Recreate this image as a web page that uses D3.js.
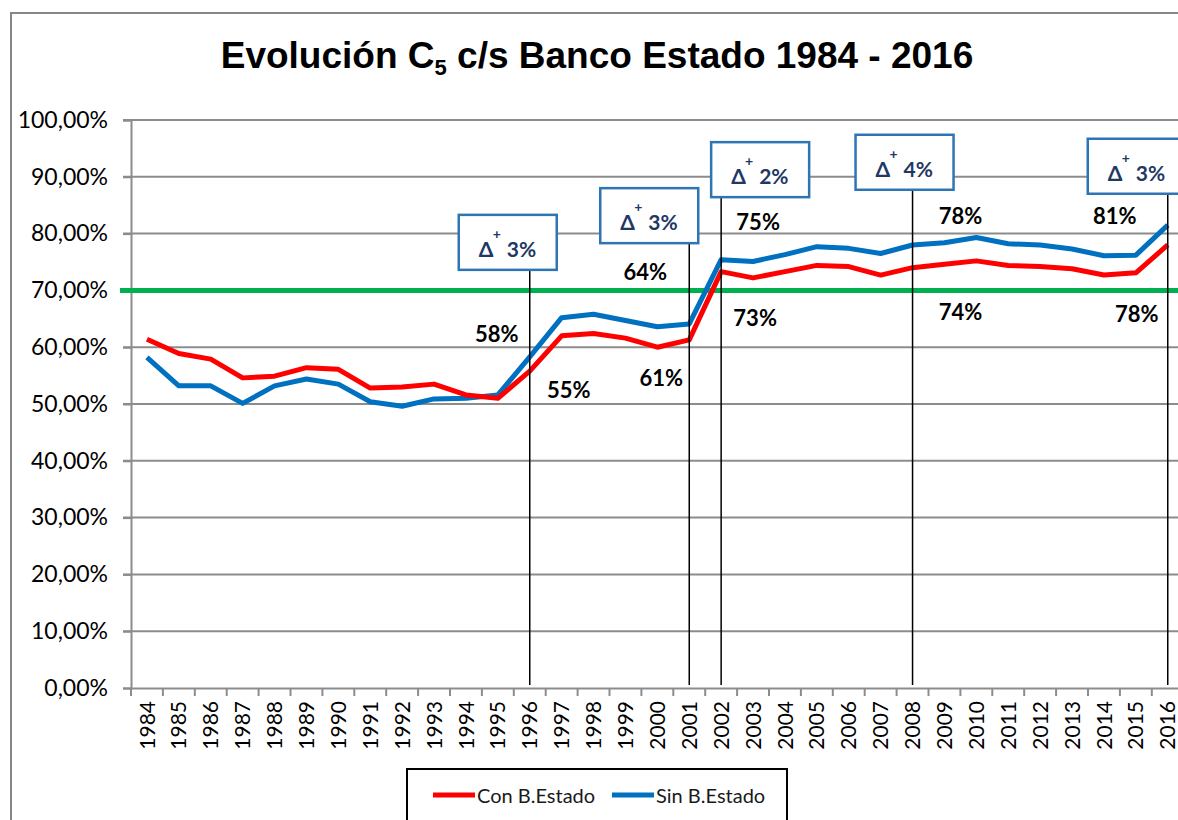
<!DOCTYPE html>
<html>
<head>
<meta charset="utf-8">
<script src="https://cdn.jsdelivr.net/npm/d3@7"></script>
<style>
  body { margin: 0; background: #fff; }
</style>
</head>
<body>
<div id="chart"></div>
<script>
const years = d3.range(1984, 2017).map(String);
const conBE = [61.4, 58.9, 57.9, 54.6, 54.9, 56.4, 56.1, 52.8, 53.0, 53.5, 51.6, 51.0, 55.8, 62.0, 62.4, 61.6, 60.0, 61.3,
  73.3, 72.2, 73.3, 74.4, 74.2, 72.7, 74.0, 74.6, 75.2, 74.4, 74.2, 73.8, 72.7, 73.1, 78.0];
const sinBE = [58.2, 53.2, 53.2, 50.1, 53.2, 54.4, 53.5, 50.4, 49.6, 50.9, 51.0, 51.6, 58.3, 65.2, 65.8, 64.7, 63.6, 64.1,
  75.4, 75.1, 76.3, 77.7, 77.4, 76.5, 78.0, 78.4, 79.3, 78.2, 78.0, 77.3, 76.1, 76.2, 81.5];
const threshold = 70;
const yTicks = [0, 10, 20, 30, 40, 50, 60, 70, 80, 90, 100];

// delta boxes
const deltaYears = ["1996", "2001", "2002", "2008", "2016"];
const deltaTexts = ["3%", "3%", "2%", "4%", "3%"];

// value labels
const labelYears = ["1996", "1996", "2001", "2001", "2002", "2002", "2008", "2008", "2016", "2016"];
const labelTexts = ["58%", "55%", "64%", "61%", "75%", "73%", "78%", "74%", "81%", "78%"];

const width = 1178;
const height = 820;
const margin = {left: 131, top: 120, bottom: 132};
const plotW = 33 * 31.9;
const plotH = height - margin.top - margin.bottom;

const svg = d3.select('#chart')
  .append('svg')
  .attr('width', width)
  .attr('height', height)
  .style('display', 'block');

svg.append('rect')
  .attr('width', width)
  .attr('height', height)
  .attr('fill', '#fff');

// outer chart border
svg.append('path')
  .attr('d', `M11,${height} V13 H${width}`)
  .attr('fill', 'none')
  .attr('stroke', '#868686')
  .attr('stroke-width', 2);

const title = svg.append('text')
  .attr('x', 597)
  .attr('y', 68)
  .attr('text-anchor', 'middle')
  .style('font-family', '"Liberation Sans", Arial, sans-serif')
  .style('font-weight', 'bold')
  .style('font-size', '37px')
  .attr('fill', '#000');
title.append('tspan').text('Evolución C');
title.append('tspan').text('5').attr('dy', 7).style('font-size', '22px');
title.append('tspan').text(' c/s Banco Estado 1984 - 2016').attr('dy', -7);

const x = d3.scaleBand()
  .domain(years)
  .range([margin.left, margin.left + plotW]);

const y = d3.scaleLinear()
  .domain([0, 100])
  .range([margin.top + plotH, margin.top]);

const cx = d => x(d) + x.bandwidth() / 2;

const locale = d3.formatLocale({decimal: ',', thousands: '.', grouping: [3], currency: ['$', '']});
const fmt = locale.format('.2%');

// grid
svg.append('g')
  .selectAll('line')
  .data(yTicks.filter(d => d > 0))
  .join('line')
  .attr('x1', margin.left - 8)
  .attr('x2', margin.left + plotW)
  .attr('y1', d => y(d))
  .attr('y2', d => y(d))
  .attr('stroke', '#8c8c8c')
  .attr('stroke-width', 2);

// y axis
const yAxis = svg.append('g')
  .attr('transform', `translate(${margin.left},0)`)
  .call(d3.axisLeft(y).tickValues(yTicks).tickSize(8).tickFormat(d => fmt(d / 100)));
yAxis.select('.domain').attr('stroke', '#8c8c8c').attr('stroke-width', 2);
yAxis.selectAll('.tick line').attr('stroke', '#8c8c8c').attr('stroke-width', 2);
yAxis.selectAll('.tick text')
  .attr('x', -23)
  .style('font-family', 'Lato, sans-serif')
  .style('font-size', '23px')
  .attr('fill', '#000');

// x axis
const xAxis = svg.append('g')
  .attr('transform', `translate(0,${y(0)})`)
  .call(d3.axisBottom(x).tickSize(0).tickSizeOuter(0));
xAxis.select('.domain').attr('stroke', '#8c8c8c').attr('stroke-width', 2);
xAxis.selectAll('.tick text')
  .attr('transform', 'rotate(-90)')
  .attr('text-anchor', 'end')
  .attr('x', -13)
  .attr('y', 0)
  .attr('dy', '0.36em')
  .style('font-family', 'Lato, sans-serif')
  .style('font-size', '21px')
  .attr('fill', '#000');
svg.append('g')
  .selectAll('line')
  .data(years.concat(['end']))
  .join('line')
  .attr('x1', d => d === 'end' ? margin.left + plotW : x(d))
  .attr('x2', d => d === 'end' ? margin.left + plotW : x(d))
  .attr('y1', y(0))
  .attr('y2', y(0) + 8)
  .attr('stroke', '#8c8c8c')
  .attr('stroke-width', 2);

// threshold line
svg.append('line')
  .attr('x1', margin.left - 11)
  .attr('x2', width)
  .attr('y1', y(threshold))
  .attr('y2', y(threshold))
  .attr('stroke', '#00b050')
  .attr('stroke-width', 5);

const line = d3.line()
  .x((d, i) => cx(years[i]))
  .y(d => y(d));

svg.append('path')
  .datum(sinBE)
  .attr('d', line)
  .attr('fill', 'none')
  .attr('stroke', '#0070c0')
  .attr('stroke-width', 5)
  .attr('stroke-linejoin', 'round');

svg.append('path')
  .datum(conBE)
  .attr('d', line)
  .attr('fill', 'none')
  .attr('stroke', '#ff0000')
  .attr('stroke-width', 5)
  .attr('stroke-linejoin', 'round');

// delta annotations: box offset from the year centre and box top (in %)
const boxPlace = [[-22, 83.3], [-40, 88.0], [39, 96.1], [-8, 97.4], [-31, 96.7]];
const boxW = 98, boxH = 55;

deltaYears.forEach((yr, i) => {
  const bx = cx(yr) + boxPlace[i][0] - boxW / 2;
  const by = y(boxPlace[i][1]);
  svg.append('line')
    .attr('x1', cx(yr))
    .attr('x2', cx(yr))
    .attr('y1', by + boxH)
    .attr('y2', y(0) - 3)
    .attr('stroke', '#000')
    .attr('stroke-width', 1.5);
  svg.append('rect')
    .attr('x', bx)
    .attr('y', by)
    .attr('width', boxW)
    .attr('height', boxH)
    .attr('fill', '#fff')
    .attr('stroke', '#2e75b6')
    .attr('stroke-width', 2.5);
  const t = svg.append('g')
    .style('font-family', 'Lato, sans-serif')
    .style('font-weight', 'bold')
    .attr('fill', '#1f3864');
  t.append('text').attr('x', bx + 20).attr('y', by + 42).style('font-size', '21px').text('Δ');
  t.append('text').attr('x', bx + 38).attr('y', by + 24).attr('text-anchor', 'middle')
    .style('font-size', '14px').text('+');
  t.append('text').attr('x', bx + 48).attr('y', by + 42).style('font-size', '21px').text(deltaTexts[i]);
});

// value labels: which series they belong to and offset from the point
const labelSeries = [sinBE, conBE, sinBE, conBE, sinBE, conBE, sinBE, conBE, sinBE, conBE];
const labelShift = [[-33, -15], [39, 27], [-44, -44], [-28, 46], [37, -30], [34, 54], [48, -21], [48, 52], [-53, -1], [-31, 77]];

svg.append('g')
  .selectAll('text')
  .data(labelTexts)
  .join('text')
  .attr('x', (d, i) => cx(labelYears[i]) + labelShift[i][0])
  .attr('y', (d, i) => y(labelSeries[i][years.indexOf(labelYears[i])]) + labelShift[i][1])
  .attr('text-anchor', 'middle')
  .style('font-family', 'Lato, sans-serif')
  .style('font-weight', 'bold')
  .style('font-size', '22px')
  .attr('fill', '#000')
  .text(d => d);

// legend
const legend = svg.append('g').attr('transform', 'translate(407,769)');
legend.append('rect')
  .attr('width', 380)
  .attr('height', 70)
  .attr('fill', '#fff')
  .attr('stroke', '#000')
  .attr('stroke-width', 2);
const legendItems = [['Con B.Estado', '#ff0000', 26], ['Sin B.Estado', '#0070c0', 205]];
legendItems.forEach(([name, color, lx]) => {
  legend.append('line')
    .attr('x1', lx)
    .attr('x2', lx + 42)
    .attr('y1', 26)
    .attr('y2', 26)
    .attr('stroke', color)
    .attr('stroke-width', 5);
  legend.append('text')
    .attr('x', lx + 44)
    .attr('y', 34)
    .style('font-family', 'Lato, sans-serif')
    .style('font-size', '20px')
    .attr('fill', '#1a1a1a')
    .text(name);
});
</script>
</body>
</html>
